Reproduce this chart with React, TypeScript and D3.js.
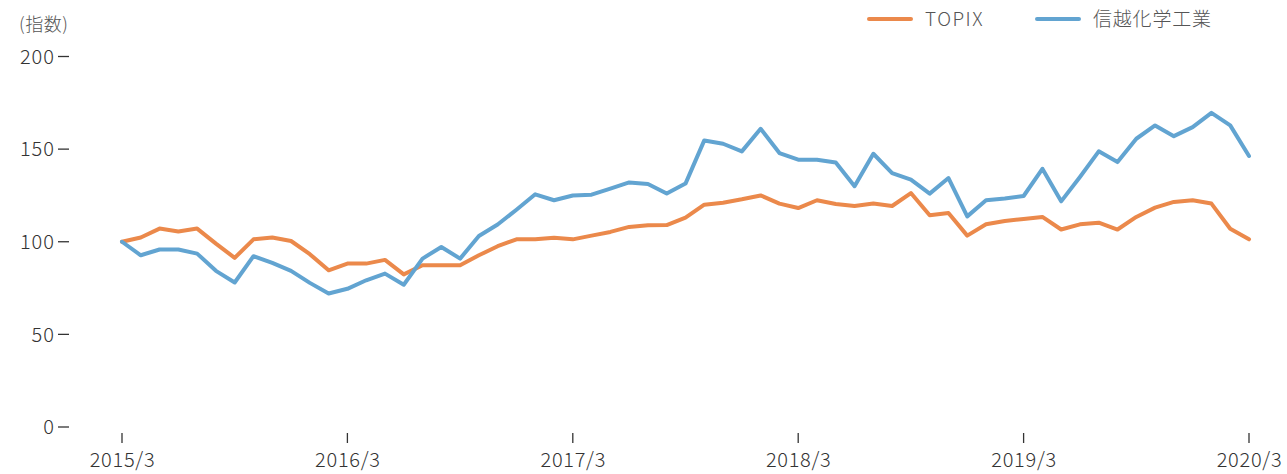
import React from "react";
import * as d3 from "d3";

const months: string[] = [];
for (let y = 2015; y <= 2020; y++) {
  for (let m = 1; m <= 12; m++) {
    if ((y === 2015 && m < 3) || (y === 2020 && m > 3)) continue;
    months.push(`${y}/${m}`);
  }
}

const topix = [
  100, 102.3, 107.1, 105.5, 107.1, 99, 91.3, 101.3, 102.3, 100.4,
  93.3, 84.6, 88.2, 88.2, 90.2, 82.4, 87.3, 87.3, 87.3, 92.7,
  97.6, 101.3, 101.3, 102.2, 101.3, 103.3, 105.3, 108, 108.9, 109,
  113, 120, 121.1, 122.9, 125, 120.6, 118.2, 122.4, 120.4, 119.3,
  120.6, 119.3, 126.3, 114.3, 115.5, 103.3, 109.4, 111.2, 112.3, 113.4,
  106.6, 109.4, 110.3, 106.6, 113.4, 118.4, 121.5, 122.4, 120.6, 107, 101.3,
];

const shinEtsu = [
  100, 92.7, 95.8, 95.8, 93.6, 84.3, 78, 92.2, 88.6, 84.3,
  77.8, 72.1, 74.6, 79.2, 82.8, 76.8, 90.9, 97.2, 90.9, 103.1,
  109.3, 117.3, 125.6, 122.4, 125, 125.4, 128.7, 132, 131.2, 126,
  131.4, 154.7, 152.9, 148.8, 161, 147.9, 144.3, 144.3, 142.8, 130,
  147.5, 137, 133.5, 126, 134.4, 113.7, 122.4, 123.3, 124.7, 139.4,
  121.8, 135, 148.8, 143, 155.6, 162.8, 157, 161.9, 169.6, 162.8, 146.3,
];

const yTicks = [0, 50, 100, 150, 200];
const xTickLabels = ["2015/3", "2016/3", "2017/3", "2018/3", "2019/3", "2020/3"];

const seriesNames = ["TOPIX", "信越化学工業"];
const colors = ["#eb894b", "#62a4d1"];

const W = 1287;
const H = 474;
const FONT = "'Noto Sans CJK JP', 'Noto Sans', sans-serif";
const TEXT = "#333333";
const LEGEND_TEXT = "#555555";

export default function App() {
  const x = d3.scaleLinear().domain([0, months.length - 1]).range([122, 1249]);
  const y = d3.scaleLinear().domain([0, 200]).range([427, 56.5]);
  const line = d3
    .line<number>()
    .x((_, i) => x(i))
    .y((d) => y(d))
    .curve(d3.curveLinear);

  return (
    <svg
      width={W}
      height={H}
      style={{ position: "absolute", left: 0, top: 0, background: "#fff" }}
      fontFamily={FONT}
    >
      <text x={19} y={31} fontSize={18} fill={LEGEND_TEXT} fontWeight={300} letterSpacing={0.5}>
        (指数)
      </text>
      {yTicks.map((t) => (
        <g key={t}>
          <text
            x={55}
            y={y(t)}
            dy="0.36em"
            textAnchor="end"
            fontSize={20}
            fill={TEXT}
            fontWeight={300}
            letterSpacing={1}
          >
            {t}
          </text>
          <line x1={58} x2={69} y1={y(t)} y2={y(t)} stroke={TEXT} strokeWidth={1.3} />
        </g>
      ))}
      {xTickLabels.map((lab) => {
        const i = months.indexOf(lab);
        return (
          <g key={lab}>
            <line x1={x(i)} x2={x(i)} y1={433} y2={443} stroke={TEXT} strokeWidth={1.3} />
            <text
              x={x(i) + 0.5}
              y={467}
              textAnchor="middle"
              fontSize={20}
              fill={TEXT}
              fontWeight={300}
              letterSpacing={0.7}
            >
              {lab}
            </text>
          </g>
        );
      })}
      {[topix, shinEtsu].map((s, k) => (
        <path
          key={k}
          d={line(s) || ""}
          fill="none"
          stroke={colors[k]}
          strokeWidth={4}
          strokeLinejoin="round"
          strokeLinecap="round"
        />
      ))}
      {seriesNames.map((n, k) => {
        const lx = k === 0 ? 869 : 1037;
        return (
          <g key={n}>
            <line
              x1={lx}
              x2={lx + 42}
              y1={19}
              y2={19}
              stroke={colors[k]}
              strokeWidth={4}
              strokeLinecap="round"
            />
            <text
              x={lx + 56}
              y={26}
              fontSize={19}
              fill={LEGEND_TEXT}
              fontWeight={300}
              letterSpacing={k === 0 ? 1.5 : 0.8}
            >
              {n}
            </text>
          </g>
        );
      })}
    </svg>
  );
}
